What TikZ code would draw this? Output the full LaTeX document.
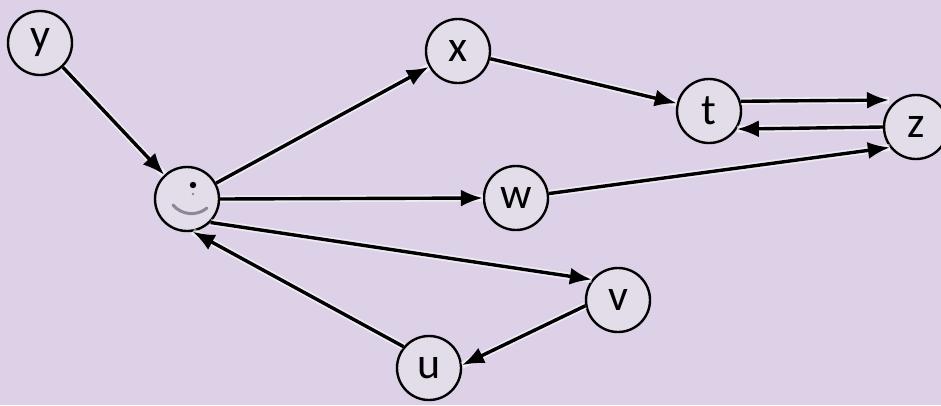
\documentclass[tikz,border=0pt]{standalone}
\usepackage{fontspec}
\setmainfont{Carlito}
\usetikzlibrary{arrows.meta}
\definecolor{bgcol}{RGB}{220,209,230}
\definecolor{nodefill}{RGB}{226,221,233}
\definecolor{glyphgray}{RGB}{140,135,148}
\tikzset{
  vert/.style={circle, draw=black, line width=2.4pt, fill=nodefill,
    minimum size=64pt, inner sep=0pt, font=\fontsize{44}{44}\selectfont},
  edge/.style={line width=3.4pt, -{Latex[length=22pt,width=17pt]},
    preaction={draw=white, line width=7pt, opacity=0.55, -}}
}
\begin{document}
\begin{tikzpicture}[x=1pt, y=-1pt]
  \fill[bgcol] (0,0) rectangle (941,405);
  \useasboundingbox (0,0) rectangle (941,405);
  % vertices
  \node[vert] (y) at (40,43) {y};
  \node[vert] (s) at (187,199) {};
  \node[vert] (x) at (458,51) {x};
  \node[vert] (t) at (709,111) {t};
  \node[vert] (z) at (916,127) {z};
  \node[vert] (w) at (516,198) {w};
  \node[vert] (v) at (618,300) {v};
  \node[vert] (u) at (429,368) {u};
  % faded mark inside the source vertex
  \fill[black] (193,185) circle (3.2pt);
  \fill[glyphgray] (193,194) circle (1.3pt);
  \draw[glyphgray, line width=3pt, line cap=round] (173,205) to[bend right=45] (207,208);
  % arrow tips that stop short of the z circle
  \coordinate (ztop) at (889,100);
  % edges
  \draw[edge] (y) -- (s);
  \draw[edge] (s) -- (x);
  \draw[edge] (x) -- (t);
  \draw[edge] (t.17) -- (ztop);
  \draw[edge] (z.west) -- (t.-33);
  \draw[edge] (s.east) -- (w.west);
  \draw[edge] (w) -- (z.218);
  \draw[edge] (s.-45) -- (v.142);
  \draw[edge] (v.190) -- (u.5);
  \draw[edge] (u.140) -- (s.-80);
\end{tikzpicture}
\end{document}
